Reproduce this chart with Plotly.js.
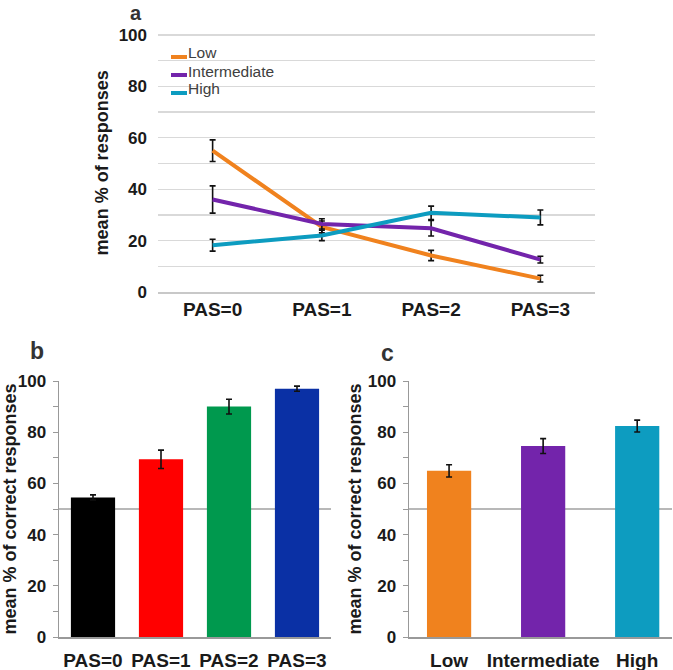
<!DOCTYPE html>
<html>
<head>
<meta charset="utf-8">
<script src="https://cdn.plot.ly/plotly-3.0.1.min.js"></script>
<style>html,body{margin:0;padding:0;background:#fff}#chart{width:673px;height:670px}</style>
</head>
<body>
<div id="chart"></div>
<script>
// Panel a: mean % of responses by PAS level, per group
const pasLabels = ["PAS=0", "PAS=1", "PAS=2", "PAS=3"];
const seriesNames = ["Low", "Intermediate", "High"];
const lowVals = [55, 25.3, 14.2, 5.2];
const lowErr = [4.2, 2.3, 2.0, 1.3];
const interVals = [36, 26.5, 24.8, 12.6];
const interErr = [5.3, 2.0, 3.0, 1.3];
const highVals = [18.2, 22, 30.8, 29];
const highErr = [2.3, 2.0, 2.6, 2.9];

// Panel b: mean % correct by PAS level
const pasCorrect = [54.5, 69.4, 90, 97];
const pasCorrectErr = [1.0, 3.6, 2.9, 1.0];

// Panel c: mean % correct by group
const groupLabels = ["Low", "Intermediate", "High"];
const groupCorrect = [64.9, 74.6, 82.4];
const groupCorrectErr = [2.4, 2.9, 2.3];

const chance = 50;

const cOrange = "#f0821e", cPurple = "#7324ab", cTeal = "#0d9cc0";
const seriesColors = [cOrange, cPurple, cTeal];
const pasColors = ["#000000", "#ff0000", "#00994e", "#0a30a5"];
const groupColors = [cOrange, cPurple, cTeal];

const FONT = "Liberation Sans, Arial, sans-serif";
const idx = a => a.map((_, i) => i);
const errBar = (arr) => ({type: "data", array: arr, visible: true, color: "#111", thickness: 1.6, width: 3});

const lineVals = [lowVals, interVals, highVals];
const lineErrs = [lowErr, interErr, highErr];

const traces = seriesNames.map((n, i) => ({
  x: idx(pasLabels), y: lineVals[i], name: n, type: "scatter", mode: "lines",
  line: {color: seriesColors[i], width: 4}, error_y: errBar(lineErrs[i]), xaxis: "x", yaxis: "y", showlegend: false
}));
traces.push(
  {x: idx(pasLabels), y: pasCorrect, type: "bar", width: 0.65, showlegend: false,
   marker: {color: pasColors}, error_y: errBar(pasCorrectErr), xaxis: "x2", yaxis: "y2"},
  {x: idx(groupLabels), y: groupCorrect, type: "bar", width: 0.47, showlegend: false,
   marker: {color: groupColors}, error_y: errBar(groupCorrectErr), xaxis: "x3", yaxis: "y3"}
);

const W = 673, H = 670;
const px = v => v / W, py = v => 1 - v / H;

const tickFont = {family: FONT, size: 17, color: "#1a1a1a", weight: "bold"};
const xTickFont = {family: FONT, size: 19, color: "#1a1a1a", weight: "bold"};
const titleFont = {family: FONT, size: 18, color: "#1a1a1a", weight: "bold"};

// custom compact legend (panel a)
const legGap = 18;
const legendAnn = seriesNames.map((n, i) => ({
  text: n, xref: "paper", yref: "paper", x: px(187), y: py(53 + i * legGap), xanchor: "left", yanchor: "middle",
  showarrow: false, borderpad: 0, font: {family: FONT, size: 15.5, color: "#404040"}
}));
const legendShapes = seriesNames.map((n, i) => ({
  type: "line", xref: "paper", yref: "paper", x0: px(171), x1: px(187), y0: py(57 + i * legGap), y1: py(57 + i * legGap),
  line: {color: seriesColors[i], width: 4}
}));

const layout = {
  width: W, height: H,
  margin: {l: 0, r: 0, t: 0, b: 0},
  paper_bgcolor: "#fff", plot_bgcolor: "rgba(0,0,0,0)",
  font: {family: FONT},
  showlegend: false,
  xaxis: {domain: [px(158), px(595)], range: [-0.5, 3.5], tickvals: idx(pasLabels), ticktext: pasLabels,
          showgrid: false, zeroline: false, showline: true, linecolor: "#c8c8c8", linewidth: 1.5,
          ticks: "", ticklabelstandoff: 0, tickfont: xTickFont, fixedrange: true},
  yaxis: {domain: [py(292), py(33.7)], range: [0, 100.5], tickvals: [0, 20, 40, 60, 80, 100], showgrid: true, gridcolor: "#d9d9d9", gridwidth: 1.3,
          minor: {tickvals: [10, 30, 50, 70, 90], showgrid: true, gridcolor: "#d9d9d9", gridwidth: 1.3},
          zeroline: false, showline: false, ticks: "", ticklabelstandoff: 10, tickfont: tickFont,
          title: {text: "mean % of responses", font: titleFont, standoff: 5}},
  xaxis2: {domain: [px(59), px(331)], range: [-0.5, 3.5], tickvals: idx(pasLabels), ticktext: pasLabels,
           showgrid: false, zeroline: false, showline: true, linecolor: "#999", linewidth: 1.5,
           ticks: "", ticklabelstandoff: 6, tickfont: xTickFont, anchor: "y2"},
  yaxis2: {domain: [py(637), py(381)], range: [0, 100], dtick: 20, showgrid: false, zeroline: false,
           showline: true, linecolor: "#999", linewidth: 1.5, ticks: "outside", ticklen: 5, tickcolor: "#999",
           minor: {dtick: 10, ticks: "outside", ticklen: 5, tickcolor: "#999"},
           ticklabelstandoff: 3, tickfont: tickFont, anchor: "x2",
           title: {text: "mean % of correct responses", font: titleFont, standoff: 1}},
  xaxis3: {domain: [px(409), px(672)], range: [-0.426, 2.37], tickvals: idx(groupLabels), ticktext: groupLabels,
           showgrid: false, zeroline: false, showline: true, linecolor: "#999", linewidth: 1.5,
           ticks: "", ticklabelstandoff: 6, tickfont: xTickFont, anchor: "y3"},
  yaxis3: {domain: [py(637), py(381)], range: [0, 100], dtick: 20, showgrid: false, zeroline: false,
           showline: true, linecolor: "#999", linewidth: 1.5, ticks: "outside", ticklen: 5, tickcolor: "#999",
           minor: {dtick: 10, ticks: "outside", ticklen: 5, tickcolor: "#999"},
           ticklabelstandoff: 3, tickfont: tickFont, anchor: "x3",
           title: {text: "mean % of correct responses", font: titleFont, standoff: 1}},
  shapes: [
    {type: "line", xref: "x2 domain", yref: "y2", x0: 0, x1: 1, y0: chance, y1: chance,
     line: {color: "#a0a0a0", width: 1.5}, layer: "below"},
    {type: "line", xref: "x3 domain", yref: "y3", x0: 0, x1: 1, y0: chance, y1: chance,
     line: {color: "#a0a0a0", width: 1.5}, layer: "below"}
  ].concat(legendShapes),
  annotations: [
    {text: "a", xref: "paper", yref: "paper", x: px(136), y: py(1), xanchor: "center", yanchor: "top", borderpad: 0, showarrow: false,
     font: {family: FONT, size: 20, color: "#333", weight: "bold"}},
    {text: "b", xref: "paper", yref: "paper", x: px(37), y: py(351), xanchor: "center", yanchor: "middle", showarrow: false,
     font: {family: FONT, size: 23, color: "#333", weight: "bold"}},
    {text: "c", xref: "paper", yref: "paper", x: px(388), y: py(353), xanchor: "center", yanchor: "middle", showarrow: false,
     font: {family: FONT, size: 23, color: "#333", weight: "bold"}}
  ].concat(legendAnn)
};

Plotly.newPlot("chart", traces, layout, {displayModeBar: false, staticPlot: true});
</script>
</body>
</html>
